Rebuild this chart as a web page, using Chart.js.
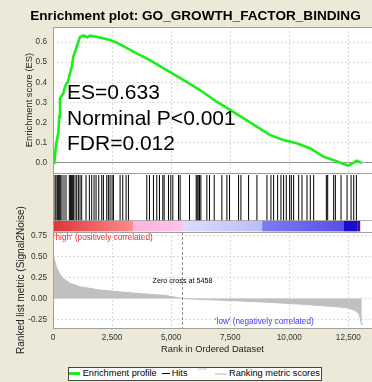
<!DOCTYPE html>
<html>
<head>
<meta charset="utf-8">
<script src="https://cdn.jsdelivr.net/npm/chart.js@4.4.1/dist/chart.umd.min.js"></script>
<style>
  html, body { margin: 0; padding: 0; background: #ece9d8; }
  #wrap { position: relative; width: 372px; height: 382px; overflow: hidden; }
  #gsea { position: absolute; left: 0; top: 0; }
  #title { position: absolute; left: 0; top: 8px; width: 391px; text-align: center;
           font: bold 13.6px "Liberation Sans", Arial, sans-serif; line-height: 16px; color: #000; white-space: nowrap; }
  #legend { position: absolute; left: 68px; top: 367px; width: 254px; height: 14px; box-sizing: border-box;
            border: 1px solid #444; background: #fff; }
  #legend .sw { position: absolute; display: block; }
  #legend .lt { position: absolute; top: 0; line-height: 12px; white-space: nowrap;
                font: 9.2px "Liberation Sans", Arial, sans-serif; color: #000; }
</style>
</head>
<body>
<div id="wrap">
  <canvas id="gsea" width="372" height="382"></canvas>
  <div id="title">Enrichment plot: GO_GROWTH_FACTOR_BINDING</div>
  <div id="legend">
    <span class="sw" style="left:0;top:4px;width:11px;height:2.5px;background:#1aef1a"></span>
    <span class="lt" style="left:13.7px">Enrichment profile</span>
    <span class="sw" style="left:92.7px;top:5px;width:8.3px;height:1px;background:#000"></span>
    <span class="lt" style="left:102.7px">Hits</span>
    <span class="sw" style="left:129px;top:0;width:9px;height:1.5px;background:#e2e2e2"></span>
    <span class="sw" style="left:146px;top:5px;width:12px;height:1.5px;background:#dcdcdc"></span>
    <span class="lt" style="left:160px">Ranking metric scores</span>
  </div>
</div>
<script>
// axis ticks
const rankTicks = [0, 2500, 5000, 7500, 10000, 12500];
const esTicks = [0.0, 0.1, 0.2, 0.3, 0.4, 0.5, 0.6];
const metricTicks = [-0.25, 0.0, 0.25, 0.5, 0.75];

// running enrichment score
const esRank  = [0, 55, 127, 224, 267, 296, 436, 508, 647, 719, 791, 859, 1003, 1143, 1282, 1452, 1566,
                 1989, 2412, 2696, 3542, 4105, 4812, 5514, 6221, 6928, 7491, 8053, 8620, 9183, 9746,
                 10313, 10876, 11439, 11862, 12285, 12497, 12709, 12852, 13064];
const esScore = [0.0, 0.0, 0.09, 0.147, 0.23, 0.32, 0.345, 0.378, 0.41, 0.445, 0.477, 0.527, 0.577, 0.626,
                 0.633, 0.624, 0.632, 0.623, 0.61, 0.597, 0.544, 0.511, 0.461, 0.412, 0.362, 0.304, 0.263,
                 0.222, 0.18, 0.139, 0.114, 0.098, 0.073, 0.031, 0.015, -0.005, -0.013, 0.0, 0.011, 0.0];

// positions of gene set members in the ranked list
const hitRanks = [85, 127, 183, 226, 268, 325, 381, 466, 551, 692, 735, 777, 819, 862, 932, 1003, 1074,
                  1144, 1215, 1398, 1540, 1638, 1737, 1822, 1935, 2062, 2133, 2274, 2345, 2415, 2500,
                  2557, 2839, 2952, 3093, 3192, 3969, 4082, 4251, 4392, 4506, 4647, 4703, 4887, 4986,
                  5071, 5311, 5381, 5777, 6059, 6102, 6144, 6201, 6257, 6511, 6624, 6822, 7147, 7359,
                  7472, 7853, 7952, 8277, 8630, 9054, 9223, 9336, 9506, 9647, 9759, 9872, 10014, 10085,
                  10184, 10396, 10537, 10749, 10890, 11031, 11568, 11624, 11878, 11949, 12190, 12445,
                  12614, 12727, 12839];

// ranked list metric (Signal2Noise)
const metricRank  = [0, 60, 150, 270, 430, 720, 1140, 2000, 3400, 4800, 5458, 6230, 7640, 9050, 10470,
                     11880, 12450, 12780, 12970, 13040, 13068];
const metricScore = [0.55, 0.46, 0.37, 0.30, 0.24, 0.18, 0.14, 0.10, 0.065, 0.035, 0.0, -0.01, -0.025,
                     -0.043, -0.067, -0.095, -0.11, -0.14, -0.19, -0.29, -0.31];
const zeroCross = 5458;

// heat bar segments along the ranked list
const bandEdges = [0, 3390, 5500, 8850, 12290, 12900, 13000];
const stats = ['ES=0.633', 'Norminal P<0.001', 'FDR=0.012'];

const bandColors = [['#de3434', '#ff8c8c'], ['#ffb2dc', '#ffc4e8'], ['#dcdcff', '#bcbcf8'],
                    ['#7c7cf2', '#5a4ee6'], ['#1a0ccc', '#1a0ccc'], ['#4a0aa0', '#4a0aa0']];
const FONT = '"Liberation Sans", Arial, sans-serif';
const HIT_LO = 0.2, HIT_HI = 0.966, BAR_LO = 0.01, BAR_HI = 0.2;

Chart.defaults.font.family = FONT;

const pts = (xs, ys) => xs.map((x, i) => ({x: x, y: ys[i]}));
const fixTicks = list => sc => { sc.ticks = list.map(v => ({value: v})); };

const panels = {
  id: 'panels',
  beforeDraw(chart) {
    const {ctx, chartArea: a} = chart;
    ctx.save();
    ctx.fillStyle = '#fff';
    ctx.fillRect(a.left, a.top, a.right - a.left, a.bottom - a.top);
    ctx.restore();
  },
  beforeDatasetsDraw(chart) {
    const {ctx, chartArea: a, scales: s} = chart;
    ctx.save();
    // vertical grid, only in the score and metric panels
    ctx.strokeStyle = '#d8d8d8';
    ctx.lineWidth = 1;
    ctx.setLineDash([2, 2]);
    rankTicks.slice(1).forEach(r => {
      const px = Math.round(s.x.getPixelForValue(r)) + 0.5;
      [s.yES, s.yMetric].forEach(y => {
        ctx.beginPath(); ctx.moveTo(px, y.top); ctx.lineTo(px, y.bottom); ctx.stroke();
      });
    });
    ctx.setLineDash([]);
    // heat bar
    const top = s.yHits.getPixelForValue(BAR_HI), bot = s.yHits.getPixelForValue(BAR_LO);
    for (let i = 0; i < bandColors.length; i++) {
      const x0 = s.x.getPixelForValue(bandEdges[i]), x1 = s.x.getPixelForValue(bandEdges[i + 1]);
      const g = ctx.createLinearGradient(x0, 0, x1, 0);
      g.addColorStop(0, bandColors[i][0]);
      g.addColorStop(1, bandColors[i][1]);
      ctx.fillStyle = g;
      ctx.fillRect(x0, top, x1 - x0, bot - top);
    }
    ctx.strokeStyle = '#b0b0b0';
    ctx.beginPath(); ctx.moveTo(a.left, Math.round(top) + 0.5); ctx.lineTo(a.right, Math.round(top) + 0.5); ctx.stroke();
    ctx.restore();
  },
  afterDatasetsDraw(chart) {
    const {ctx, chartArea: a, scales: s} = chart;
    ctx.save();
    // zero crossing marker
    const zx = Math.round(s.x.getPixelForValue(zeroCross)) + 0.5;
    ctx.strokeStyle = '#909090';
    ctx.setLineDash([3, 2]);
    ctx.beginPath(); ctx.moveTo(zx, s.yMetric.top); ctx.lineTo(zx, s.yMetric.bottom); ctx.stroke();
    ctx.setLineDash([]);

    // panel frames
    ctx.strokeStyle = '#a0a0a0';
    [s.yES.top, s.yHits.top, s.yMetric.top, s.yMetric.bottom].forEach(y => {
      const py = Math.round(y) + 0.5;
      ctx.beginPath(); ctx.moveTo(a.left, py); ctx.lineTo(a.right, py); ctx.stroke();
    });
    ctx.beginPath(); ctx.moveTo(a.left + 0.5, a.top); ctx.lineTo(a.left + 0.5, a.bottom); ctx.stroke();

    // statistics
    ctx.fillStyle = '#000';
    ctx.font = '21px ' + FONT;
    ctx.textAlign = 'left';
    ctx.textBaseline = 'alphabetic';
    stats.forEach((t, i) => ctx.fillText(t, a.left + 14, s.yES.top + 72 + i * 25.5));

    // metric panel captions
    ctx.font = '8.2px ' + FONT;
    ctx.fillStyle = '#ee2a2a';
    ctx.fillText("'high' (positively correlated)", a.left + 1, s.yMetric.top + 7.5);
    ctx.fillStyle = '#3a3aff';
    ctx.fillText("'low' (negatively correlated)", a.left + 162, s.yMetric.bottom - 4.5);
    ctx.fillStyle = '#000';
    ctx.font = '7.2px ' + FONT;
    ctx.textAlign = 'center';
    ctx.textBaseline = 'middle';
    ctx.fillText('Zero cross at ' + zeroCross, zx, s.yMetric.top + 49);

    // long axis title of the metric panel
    ctx.font = '10px ' + FONT;
    ctx.fillStyle = '#222';
    ctx.translate(21.7, (s.yMetric.top + s.yMetric.bottom) / 2);
    ctx.rotate(-Math.PI / 2);
    ctx.fillText('Ranked list metric (Signal2Noise)', 0, 0);
    ctx.restore();
  }
};

const tickFont = {size: 8.2, family: FONT};

new Chart(document.getElementById('gsea'), {
  type: 'line',
  data: {
    datasets: [{
      type: 'line',
      label: 'Enrichment profile',
      data: pts(esRank, esScore),
      yAxisID: 'yES',
      borderColor: '#1aef1a',
      borderWidth: 2.6,
      pointRadius: 0,
      tension: 0
    }, {
      type: 'bar',
      label: 'Hits',
      data: hitRanks.map(r => ({x: r, y: [HIT_LO, HIT_HI]})),
      yAxisID: 'yHits',
      backgroundColor: '#000',
      barThickness: 1,
      inflateAmount: 0
    }, {
      type: 'line',
      label: 'Ranking metric scores',
      data: pts(metricRank, metricScore),
      yAxisID: 'yMetric',
      borderColor: '#c0c0c0',
      backgroundColor: '#c0c0c0',
      borderWidth: 1,
      fill: 'origin',
      pointRadius: 0,
      tension: 0
    }]
  },
  options: {
    responsive: false,
    animation: false,
    events: [],
    layout: {padding: {top: 27, right: 0, bottom: 0, left: 0}},
    plugins: {legend: {display: false}, tooltip: {enabled: false}},
    scales: {
      x: {
        type: 'linear', position: 'bottom', min: 0, max: 13500, offset: false,
        afterBuildTicks: fixTicks(rankTicks),
        afterFit: sc => { sc.height = 54; },
        grid: {display: false, drawTicks: false, offset: false},
        border: {display: false},
        ticks: {font: tickFont, color: '#333', padding: 5, maxRotation: 0, autoSkip: false,
                callback: v => v.toLocaleString('en-US')},
        title: {display: true, text: 'Rank in Ordered Dataset', color: '#222',
                font: {size: 9.3, family: FONT}, padding: {top: 0, bottom: 26.5}}
      },
      yES: {
        type: 'linear', position: 'left', stack: 'panels', stackWeight: 146, weight: 3,
        min: -0.05, max: 0.675,
        afterBuildTicks: fixTicks(esTicks),
        afterFit: sc => { sc.width = 53; },
        grid: {drawTicks: false, color: c => c.tick && c.tick.value === 0 ? '#999' : '#dcdcdc'},
        border: {display: false, dash: c => c.tick && c.tick.value === 0 ? [] : [2, 2]},
        ticks: {font: tickFont, color: '#333', padding: 6, callback: v => v.toFixed(1)},
        title: {display: true, text: 'Enrichment score (ES)', color: '#222',
                font: {size: 9.4, family: FONT}, padding: {top: 23.6, bottom: 0}}
      },
      yHits: {
        type: 'linear', position: 'left', stack: 'panels', stackWeight: 59, weight: 2,
        min: 0, max: 1,
        afterFit: sc => { sc.width = 53; },
        grid: {display: false},
        border: {display: false},
        ticks: {display: false}
      },
      yMetric: {
        type: 'linear', position: 'left', stack: 'panels', stackWeight: 96, weight: 1,
        min: -0.35, max: 0.79,
        afterBuildTicks: fixTicks(metricTicks),
        afterFit: sc => { sc.width = 53; },
        grid: {drawTicks: false, color: '#dcdcdc'},
        border: {display: false, dash: [2, 2]},
        ticks: {font: tickFont, color: '#333', padding: 6, callback: v => v.toFixed(2)}
      }
    }
  },
  plugins: [panels]
});
</script>
</body>
</html>
